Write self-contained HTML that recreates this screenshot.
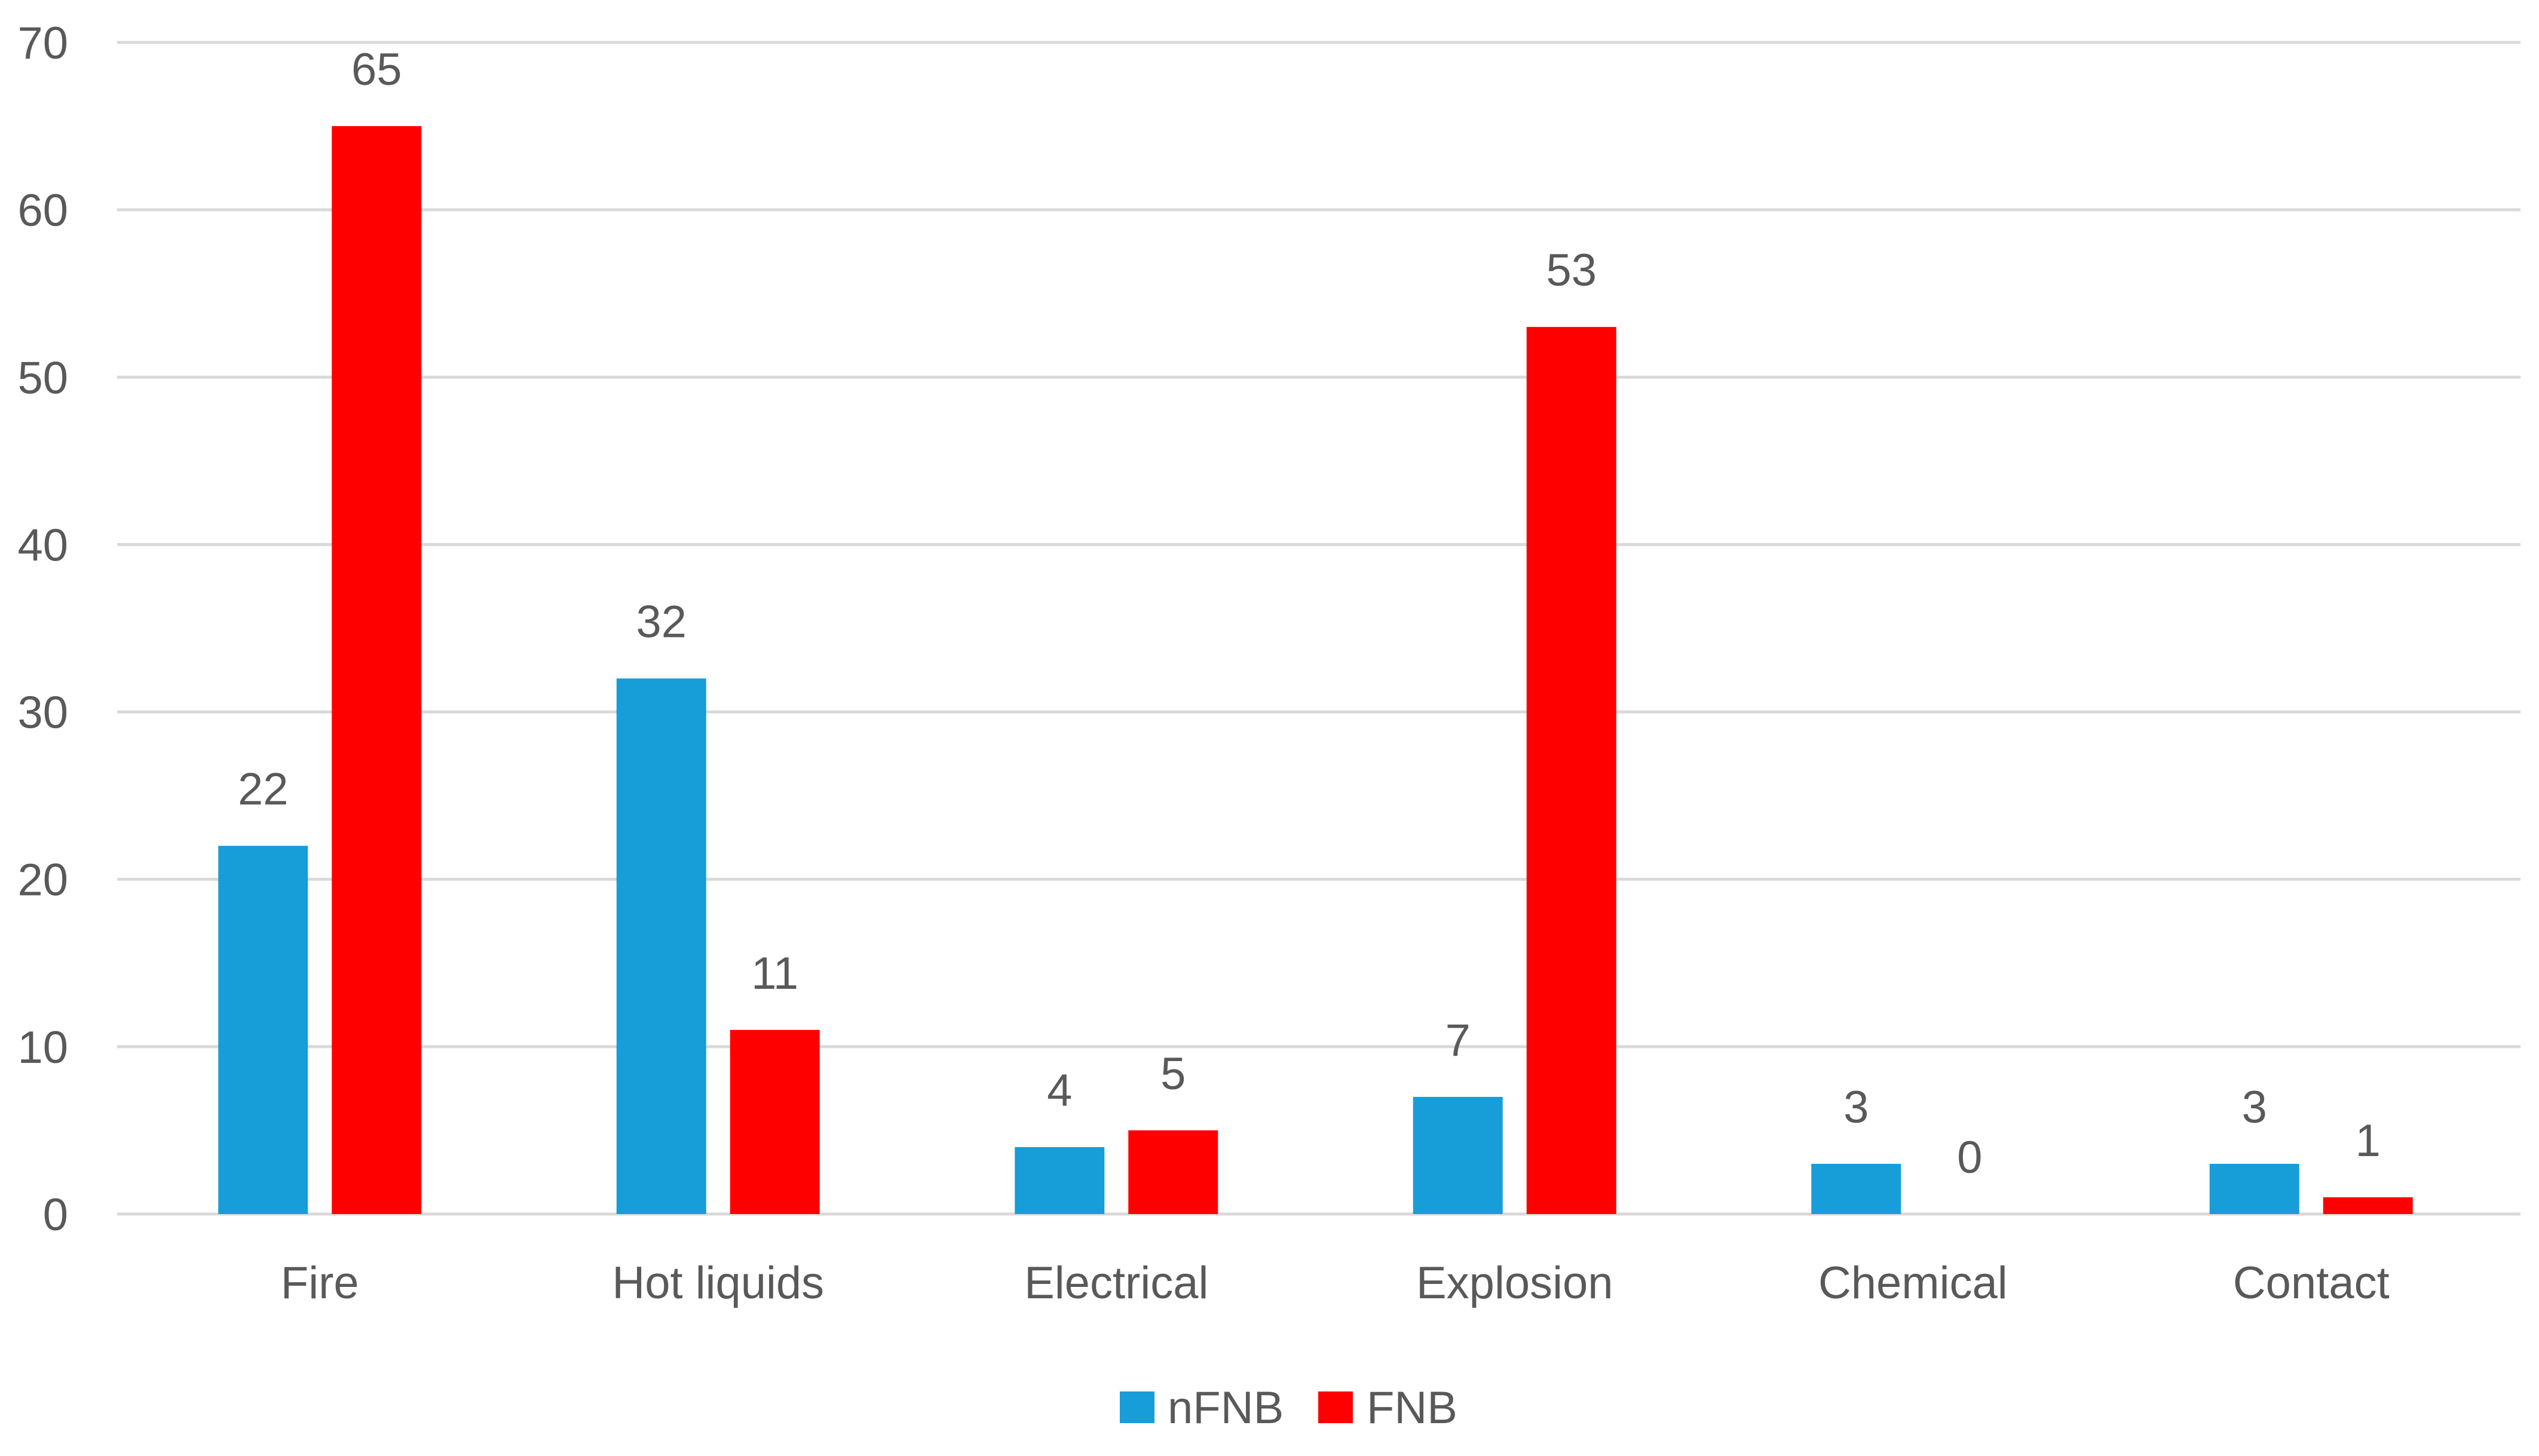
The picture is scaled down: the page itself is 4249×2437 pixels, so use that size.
<!DOCTYPE html>
<html>
<head>
<meta charset="utf-8">
<style>
  html,body{margin:0;padding:0;background:#fff;}
  svg{display:block;}
  text{font-family:"Liberation Sans",sans-serif;fill:#595959;font-size:76px;}
</style>
</head>
<body>
<svg id="chart" width="4249" height="2437" viewBox="0 0 4249 2437" xmlns="http://www.w3.org/2000/svg">
  <g id="grid"></g>
  <g id="yticks"></g>
  <g id="bars"></g>
  <g id="values"></g>
  <g id="xlabels"></g>
  <g id="legend">
    <g>
      <rect x="1874" y="2329" width="58" height="53" fill="#179dd8"/>
      <text x="1954" y="2382">nFNB</text>
    </g>
    <g>
      <rect x="2206" y="2329" width="58" height="53" fill="#ff0000"/>
      <text x="2287" y="2382">FNB</text>
    </g>
  </g>
</svg>
<script>
const categories = ["Fire","Hot liquids","Electrical","Explosion","Chemical","Contact"];
const nfnbValues = [22,32,4,7,3,3];
const fnbValues = [65,11,5,53,0,1];
const yTicks = [0,10,20,30,40,50,60,70];

const NS = "http://www.w3.org/2000/svg";
const plotLeft = 202, catW = 666.5, gridLeft = 196, gridRight = 4218;
const y0 = 2032, yTop = 71, yMax = 70;
const barW = 150, gap = 40;
function yScale(v){ return y0 - (v / yMax) * (y0 - yTop); }
function xCenter(i){ return plotLeft + catW * (i + 0.5); }
function mk(tag, attrs){ const e = document.createElementNS(NS, tag); for (const k in attrs) e.setAttribute(k, attrs[k]); return e; }

const grid = document.getElementById('grid');
const yt = document.getElementById('yticks');
yTicks.forEach(t => {
  const y = yScale(t);
  const l = mk('rect', {x: gridLeft, y: y - 2.5, width: gridRight - gridLeft, height: 5, fill: '#d9d9d9'});
  
  
  grid.appendChild(l);
  const tx = mk('text', {x: 114, y: y + 27, 'text-anchor': 'end'});
  
  
  tx.textContent = t;
  yt.appendChild(tx);
});

const bars = document.getElementById('bars');
const vals = document.getElementById('values');
const xl = document.getElementById('xlabels');
function addBar(i, v, series, color, offset){
  const cx = xCenter(i) + offset;
  const top = yScale(v);
  const r = mk('rect', {x: cx - barW/2, y: top, width: barW, height: y0 - top, fill: color});
  
  
  bars.appendChild(r);
  const t = mk('text', {x: cx, y: top - 69, 'text-anchor': 'middle'});
  
  
  t.textContent = v;
  vals.appendChild(t);
}
categories.forEach((c, i) => {
  addBar(i, nfnbValues[i], 'nfnb', '#179dd8', -(barW + gap)/2);
  addBar(i, fnbValues[i], 'fnb', '#ff0000', (barW + gap)/2);
  const t = mk('text', {x: xCenter(i), y: 2173, 'text-anchor': 'middle'});
  
  
  t.textContent = c;
  xl.appendChild(t);
});
</script>
</body>
</html>
